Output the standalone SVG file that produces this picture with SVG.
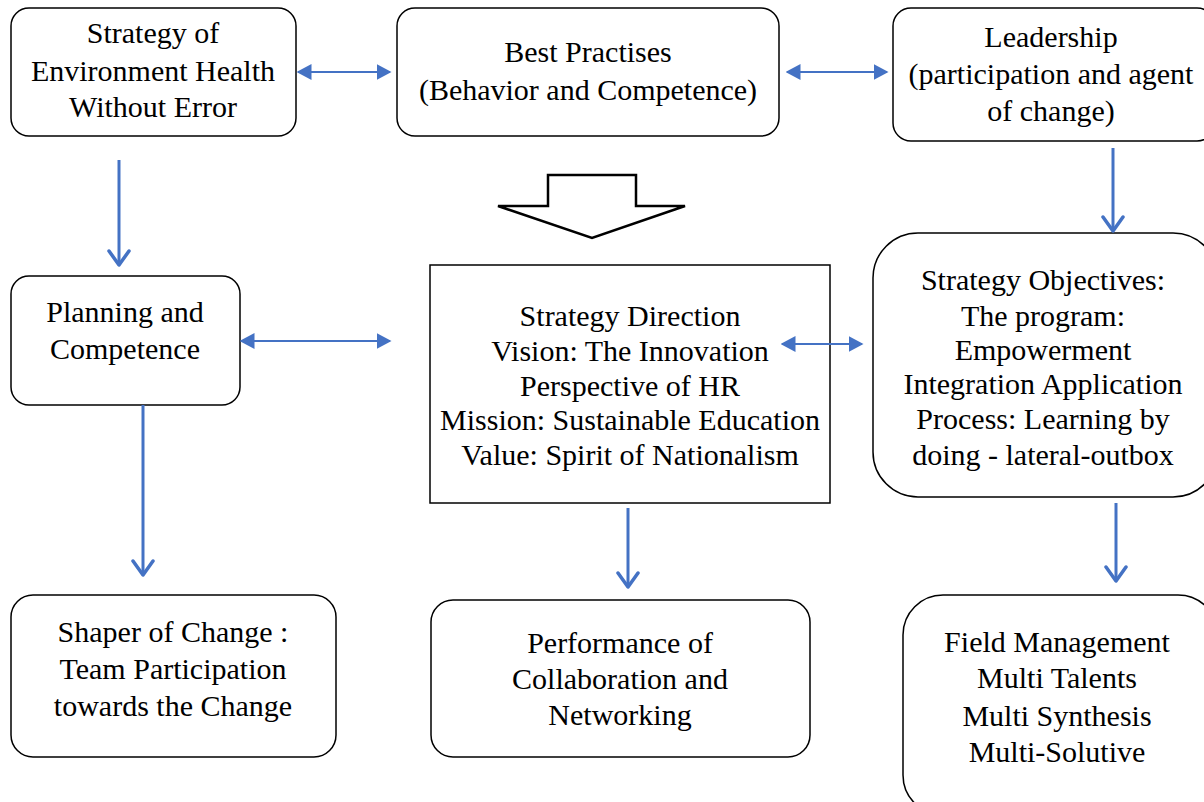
<svg xmlns="http://www.w3.org/2000/svg" width="1204" height="802" viewBox="0 0 1204 802">
<style>
.box{fill:#fff;stroke:#000;stroke-width:1.5}
.t{font-family:"Liberation Serif","Times New Roman",serif;font-size:30px;fill:#000;text-anchor:middle}
.dbl{stroke:#4472C4;stroke-width:2;fill:none}
.dn{stroke:#4472C4;stroke-width:3;fill:none}
</style>
<defs>
<marker id="tri" viewBox="0 0 10 10" refX="9" refY="5" markerWidth="7.5" markerHeight="8" markerUnits="strokeWidth" orient="auto-start-reverse" preserveAspectRatio="none">
<path d="M0,0 L10,5 L0,10 Z" fill="#4472C4"/>
</marker>
<marker id="chev" viewBox="0 0 24 20" refX="12" refY="18" markerWidth="8" markerHeight="6.7" markerUnits="strokeWidth" orient="0">
<path d="M2,4 L12,18 L22,4" fill="none" stroke="#4472C4" stroke-width="3.5" stroke-linecap="round" stroke-linejoin="round"/>
</marker>
</defs>
<rect width="1204" height="802" fill="#fff"/>

<g id="n1">
<rect class="box" x="11" y="8" width="285" height="128" rx="18"/>
<text class="t"><tspan x="153" y="43">Strategy of</tspan><tspan x="153" y="81">Environment Health</tspan><tspan x="153" y="117">Without Error</tspan></text>
</g>
<g id="n2">
<rect class="box" x="397" y="8" width="382" height="128" rx="18"/>
<text class="t"><tspan x="588" y="62">Best Practises</tspan><tspan x="588" y="100">(Behavior and Competence)</tspan></text>
</g>
<g id="n3">
<rect class="box" x="893" y="8" width="322" height="133" rx="18"/>
<text class="t"><tspan x="1051" y="47">Leadership</tspan><tspan x="1051" y="84">(participation and agent</tspan><tspan x="1051" y="121">of change)</tspan></text>
</g>
<g id="n4">
<rect class="box" x="11" y="276" width="229" height="129" rx="18"/>
<text class="t"><tspan x="125" y="322">Planning and</tspan><tspan x="125" y="359">Competence</tspan></text>
</g>
<g id="n5">
<rect class="box" x="430" y="265" width="400" height="238"/>
<text class="t"><tspan x="630" y="326">Strategy Direction</tspan><tspan x="630" y="361">Vision: The Innovation</tspan><tspan x="630" y="396">Perspective of HR</tspan><tspan x="630" y="430">Mission: Sustainable Education</tspan><tspan x="630" y="465">Value: Spirit of Nationalism</tspan></text>
</g>
<g id="n6">
<rect class="box" x="873" y="233" width="345" height="264" rx="45"/>
<text class="t"><tspan x="1043" y="290">Strategy Objectives:</tspan><tspan x="1043" y="326">The program:</tspan><tspan x="1043" y="360">Empowerment</tspan><tspan x="1043" y="394">Integration Application</tspan><tspan x="1043" y="429">Process: Learning by</tspan><tspan x="1043" y="465">doing - lateral-outbox</tspan></text>
</g>
<g id="n7">
<rect class="box" x="11" y="595" width="325" height="162" rx="22"/>
<text class="t"><tspan x="173" y="642">Shaper of Change :</tspan><tspan x="173" y="679">Team Participation</tspan><tspan x="173" y="716">towards the Change</tspan></text>
</g>
<g id="n8">
<rect class="box" x="431" y="600" width="379" height="157" rx="22"/>
<text class="t"><tspan x="620" y="653">Performance of</tspan><tspan x="620" y="689">Collaboration and</tspan><tspan x="620" y="725">Networking</tspan></text>
</g>
<g id="n9">
<rect class="box" x="903" y="595" width="315" height="220" rx="40"/>
<text class="t"><tspan x="1057" y="652">Field Management</tspan><tspan x="1057" y="688">Multi Talents</tspan><tspan x="1057" y="726">Multi Synthesis</tspan><tspan x="1057" y="762">Multi-Solutive</tspan></text>
</g>

<g id="connectors">
<line class="dbl" x1="298" y1="72" x2="390" y2="72" marker-start="url(#tri)" marker-end="url(#tri)"/>
<line class="dbl" x1="787" y1="72" x2="887" y2="72" marker-start="url(#tri)" marker-end="url(#tri)"/>
<line class="dbl" x1="241" y1="341" x2="390" y2="341" marker-start="url(#tri)" marker-end="url(#tri)"/>
<line class="dbl" x1="782" y1="344" x2="862" y2="344" marker-start="url(#tri)" marker-end="url(#tri)"/>
<line class="dn" x1="119" y1="160" x2="119" y2="265" marker-end="url(#chev)"/>
<line class="dn" x1="1113" y1="148" x2="1113" y2="231" marker-end="url(#chev)"/>
<line class="dn" x1="143" y1="405" x2="143" y2="575" marker-end="url(#chev)"/>
<line class="dn" x1="628" y1="508" x2="628" y2="587" marker-end="url(#chev)"/>
<line class="dn" x1="1116" y1="503" x2="1116" y2="581" marker-end="url(#chev)"/>
<polygon points="548,175 636,175 636,206 685,206 592,238 498,206 548,206" fill="#fff" stroke="#000" stroke-width="2.5" stroke-linejoin="miter"/>
</g>
</svg>
